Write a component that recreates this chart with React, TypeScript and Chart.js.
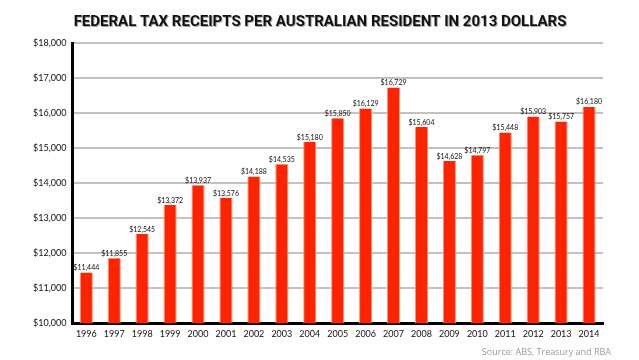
import React, { useEffect, useRef } from "react";
import { Chart, registerables } from "chart.js";
Chart.register(...registerables);

const years = ["1996","1997","1998","1999","2000","2001","2002","2003","2004","2005","2006","2007","2008","2009","2010","2011","2012","2013","2014"];
const receipts = [11444,11855,12545,13372,13937,13576,14188,14535,15180,15850,16129,16729,15604,14628,14797,15448,15903,15757,16180];
const titleText = "FEDERAL TAX RECEIPTS PER AUSTRALIAN RESIDENT IN 2013 DOLLARS";
const sourceText = "Source: ABS, Treasury and RBA";

const fmt = (v: number) => "$" + v.toLocaleString("en-US");

export default function App() {
  const ref = useRef<HTMLCanvasElement>(null);
  useEffect(() => {
    const labelPlugin = {
      id: "labels",
      afterDatasetsDraw(chart: any) {
        const ctx = chart.ctx;
        const meta = chart.getDatasetMeta(0);
        ctx.save();
        ctx.font = "7px 'Lato'";
        ctx.fillStyle = "#111";
        ctx.textAlign = "center";
        ctx.textBaseline = "bottom";
        meta.data.forEach((el: any, i: number) => {
          ctx.fillText(fmt(receipts[i]), el.x, el.y - 1);
        });
        ctx.restore();
      },
      afterDraw(chart: any) {
        const ctx = chart.ctx;
        ctx.save();
        ctx.font = "9px 'Open Sans'";
        ctx.fillStyle = "#999";
        ctx.textAlign = "right";
        ctx.textBaseline = "middle";
        ctx.fillText(sourceText, 611, 352);
        ctx.font = "bold 15px 'Roboto'";
        ctx.textAlign = "center";
        ctx.fillStyle = "#aaa";
        ctx.fillText(titleText, 321, 23);
        ctx.fillStyle = "#111";
        ctx.fillText(titleText, 320, 22);
        ctx.restore();
      },
    };
    const chart = new Chart(ref.current!, {
      type: "bar",
      data: {
        labels: years,
        datasets: [
          {
            data: receipts,
            backgroundColor: "#ff2400",
            borderColor: "#ff9080",
            borderWidth: { left: 1, right: 1, top: 0, bottom: 0 } as any,
            categoryPercentage: 1,
            barPercentage: 0.47,
          },
        ],
      },
      options: {
        animation: false,
        responsive: false,
        maintainAspectRatio: false,
        layout: { padding: { top: 43, left: 27, right: 36, bottom: 16 } },
        plugins: { legend: { display: false }, tooltip: { enabled: false }, title: { display: false } },
        scales: {
          x: {
            grid: { display: false, drawTicks: false },
            border: { color: "#000", width: 3 },
            ticks: { color: "#111", font: { size: 9, family: "'Lato'" }, padding: 5, maxRotation: 0, autoSkip: false },
          },
          y: {
            min: 10000,
            max: 18000,
            grid: { color: "#c4c0bc", lineWidth: 2, drawTicks: false },
            border: { color: "#000", width: 3 },
            ticks: { stepSize: 1000, color: "#111", font: { size: 9, family: "'Lato'" }, padding: 6, callback: (v: any) => fmt(Number(v)) },
          },
        },
      },
      plugins: [labelPlugin],
    });
    return () => chart.destroy();
  }, []);
  return (
    <div style={{ position: "fixed", left: 0, top: 0, width: 639, height: 360, background: "#fff" }}>
      <canvas ref={ref} width={639} height={360} style={{ width: 639, height: 360 }} />
    </div>
  );
}
